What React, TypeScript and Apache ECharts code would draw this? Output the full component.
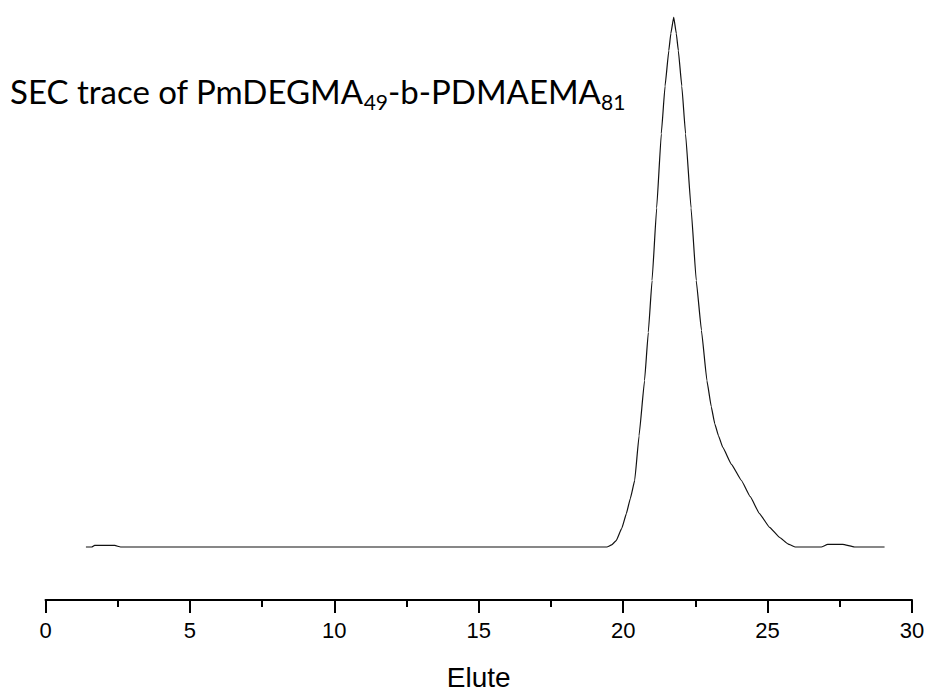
import React, { useEffect, useRef } from "react";
import * as echarts from "echarts";

const eluteTimes: number[] = [
  1.4, 1.6, 1.7, 2.4, 2.6,
  19.44, 19.6, 19.76, 19.95, 20.11, 20.25, 20.4, 20.55, 20.74, 20.87, 21.0,
  21.16, 21.32, 21.45, 21.58, 21.65, 21.75, 21.84, 21.91, 22.03, 22.16, 22.35,
  22.53, 22.71, 22.9, 23.05, 23.17, 23.3, 23.45, 23.75, 24.09, 24.4, 24.72,
  25.07, 25.42, 25.7, 25.97, 26.86, 27.08, 27.6, 28.01, 29.05,
];
const signal: number[] = [
  0, 0, 0.3, 0.3, 0,
  0, 0.4, 1.2, 3.5, 6.3, 9.2, 12.6, 21, 31.4, 40.5, 50.3,
  64, 78, 87, 93.7, 96.9, 100, 96.9, 93.7, 87, 78, 64,
  50.3, 40.9, 31.4, 26.5, 23.3, 21, 18.8, 15.6, 12.6, 9.5, 6.3,
  3.7, 1.8, 0.6, 0, 0, 0.5, 0.5, 0, 0,
];
const xTicks: number[] = [0, 5, 10, 15, 20, 25, 30];
const xAxisName = "Elute";
const titleMain = "SEC trace of PmDEGMA";
const titleSub1 = "49";
const titleMid = "-b-PDMAEMA";
const titleSub2 = "81";

export default function App() {
  const ref = useRef<HTMLDivElement>(null);
  useEffect(() => {
    if (!ref.current) return;
    const chart = echarts.init(ref.current, null, { renderer: "svg" });
    const data = eluteTimes.map((t, i) => [t, signal[i]]);
    chart.setOption({
      animation: false,
      backgroundColor: "#fff",
      grid: { left: 45.5, right: 20, top: 17.2, bottom: 96, containLabel: false },
      xAxis: {
        type: "value",
        min: xTicks[0],
        max: xTicks[xTicks.length - 1],
        interval: 5,
        name: xAxisName,
        nameLocation: "middle",
        nameGap: 63,
        nameTextStyle: { fontFamily: "Liberation Sans", fontSize: 28, color: "#000" },
        axisLine: { onZero: false, lineStyle: { color: "#000", width: 2 } },
        axisTick: { show: true, length: 13, lineStyle: { color: "#000", width: 2 } },
        minorTick: { show: true, splitNumber: 2, length: 7, lineStyle: { color: "#000", width: 2 } },
        axisLabel: { margin: 19, fontFamily: "Liberation Sans", fontSize: 22, color: "#000" },
        splitLine: { show: false },
      },
      yAxis: {
        type: "value",
        min: -10,
        max: 100,
        show: false,
        splitLine: { show: false },
      },
      series: [
        {
          type: "line",
          data,
          showSymbol: false,
          smooth: 0.1,
          smoothMonotone: "x",
          lineStyle: { color: "#111", width: 1.2 },
        },
      ],
      graphic: [
        {
          type: "text",
          left: 10,
          top: 74,
          style: {
            text: `{a|${titleMain}}{s|${titleSub1}}{a|${titleMid}}{s|${titleSub2}}`,
            rich: {
              a: { fontFamily: "Lato", fontSize: 33, color: "#000", lineHeight: 42, verticalAlign: "middle" },
              s: { fontFamily: "Lato", fontSize: 21, color: "#000", lineHeight: 42, verticalAlign: "bottom" },
            },
          },
        },
      ],
    });
    return () => chart.dispose();
  }, []);
  return <div ref={ref} style={{ width: 932, height: 696, position: "absolute", left: 0, top: 0 }} />;
}
